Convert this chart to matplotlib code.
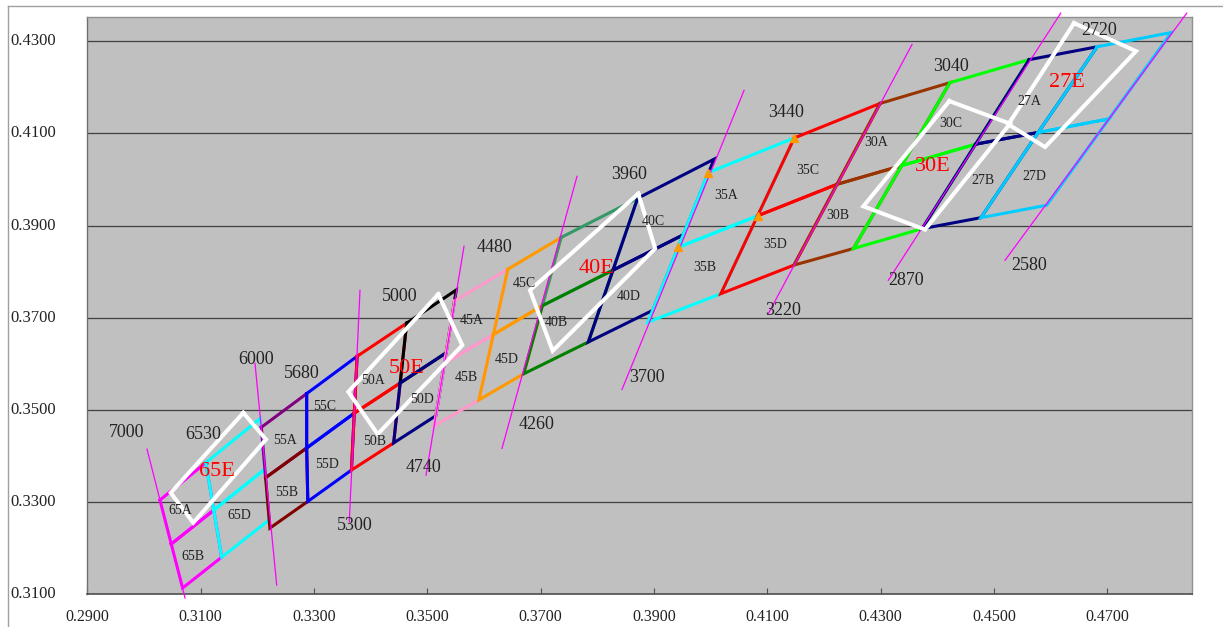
import matplotlib
matplotlib.use('Agg')
import matplotlib.pyplot as plt
from matplotlib.lines import Line2D
from matplotlib.transforms import blended_transform_factory

# ---------------- data ----------------
# Each ANSI quadrangle as a 3x3 grid of chromaticity points:
# order: TL, TM, TR, LM, C, RM, BL, BM, BR
q65_x = [0.3028, 0.3109, 0.3205, 0.3048, 0.3123, 0.3213, 0.3068, 0.3137, 0.3221]
q65_y = [0.3304, 0.3385, 0.3481, 0.32085, 0.3282, 0.3371, 0.3113, 0.3180, 0.3261]
q55_x = [0.3207, 0.3287, 0.3376, 0.32145, 0.3287, 0.3371, 0.3222, 0.3289, 0.3366]
q55_y = [0.3462, 0.3535, 0.3616, 0.33525, 0.3417, 0.34925, 0.3243, 0.3301, 0.3369]
q50_x = [0.3376, 0.34635, 0.3551, 0.3371, 0.3452, 0.3533, 0.3366, 0.34405, 0.3515]
q50_y = [0.3616, 0.3688, 0.3760, 0.34925, 0.3558, 0.36235, 0.3369, 0.3428, 0.3487]
q45_x = [0.3548, 0.3642, 0.3736, 0.3530, 0.36165, 0.3703, 0.3512, 0.3591, 0.3670]
q45_y = [0.3736, 0.3805, 0.3874, 0.36005, 0.36633, 0.3726, 0.3465, 0.35215, 0.3578]
q40_x = [0.3736, 0.3871, 0.4006, 0.3703, 0.38275, 0.3952, 0.3670, 0.3784, 0.3898]
q40_y = [0.3874, 0.3959, 0.4044, 0.3726, 0.3803, 0.3880, 0.3578, 0.3647, 0.3716]
q35_x = [0.3996, 0.41475, 0.4299, 0.39425, 0.40828, 0.4223, 0.3889, 0.4018, 0.4147]
q35_y = [0.4015, 0.4090, 0.4165, 0.38525, 0.3921, 0.39895, 0.3690, 0.3752, 0.3814]
q30_x = [0.4299, 0.4422, 0.4562, 0.4223, 0.4337, 0.44675, 0.4147, 0.4252, 0.4373]
q30_y = [0.4165, 0.4210, 0.4260, 0.39895, 0.4030, 0.40765, 0.3814, 0.3850, 0.3893]
q27_x = [0.4562, 0.4682, 0.4813, 0.44675, 0.4578, 0.4703, 0.4373, 0.4477, 0.4593]
q27_y = [0.4260, 0.4288, 0.4319, 0.40765, 0.4102, 0.41315, 0.3893, 0.3917, 0.3944]

quad_names = ['65', '55', '50', '45', '40', '35', '30', '27']
quad_xs = [q65_x, q55_x, q50_x, q45_x, q40_x, q35_x, q30_x, q27_x]
quad_ys = [q65_y, q55_y, q50_y, q45_y, q40_y, q35_y, q30_y, q27_y]

# "E" bins (rotated boxes): four corners each
e_names = ['65E', '50E', '40E', '30E', '27E']
e65_x = [0.31752, 0.32152, 0.30869, 0.30470]
e65_y = [0.34933, 0.34356, 0.32547, 0.33197]
e50_x = [0.35193, 0.35617, 0.34123, 0.33605]
e50_y = [0.37508, 0.36401, 0.34471, 0.35389]
e40_x = [0.38723, 0.39021, 0.37212, 0.36811]
e40_y = [0.39692, 0.38499, 0.36278, 0.37594]
e30_x = [0.44212, 0.45283, 0.43783, 0.42694]
e30_y = [0.41701, 0.41210, 0.38911, 0.39417]
e27_x = [0.46413, 0.47507, 0.45902, 0.45253]
e27_y = [0.43393, 0.42785, 0.40703, 0.41195]
e_xs = [e65_x, e50_x, e40_x, e30_x, e27_x]
e_ys = [e65_y, e50_y, e40_y, e30_y, e27_y]

# CCT isotherm lines (end points)
iso_cct = [7000, 6000, 5300, 4740, 4260, 3700, 3220, 2870, 2580]
iso_x1 = [0.30052, 0.31958, 0.33811, 0.35647, 0.37641, 0.40589, 0.43554, 0.46178, 0.48402]
iso_y1 = [0.34145, 0.36004, 0.37594, 0.38549, 0.40067, 0.41933, 0.42931, 0.43610, 0.43610]
iso_x2 = [0.30723, 0.32341, 0.33622, 0.34976, 0.36317, 0.38435, 0.41012, 0.43135, 0.45195]
iso_y2 = [0.30913, 0.31195, 0.32568, 0.33581, 0.34161, 0.35440, 0.37074, 0.37811, 0.38245]

# CCT labels
cct_text = ['7000', '6530', '6000', '5680', '5300', '5000', '4740', '4480', '4260',
            '3960', '3700', '3440', '3220', '3040', '2870', '2720', '2580']
cct_x = [0.2969, 0.3104, 0.3197, 0.3278, 0.3371, 0.3452, 0.3493, 0.3618, 0.3692,
         0.3856, 0.3887, 0.4133, 0.4128, 0.4425, 0.4344, 0.4685, 0.4562]
cct_y = [0.3451, 0.3446, 0.3609, 0.3579, 0.3248, 0.3745, 0.3375, 0.3853, 0.3467,
         0.4011, 0.3570, 0.4145, 0.3716, 0.4245, 0.3781, 0.4323, 0.3814]

# Sub-bin labels
bin_text = ['65A', '65B', '65D', '55A', '55B', '55C', '55D', '50A', '50B', '50D',
            '45A', '45B', '45C', '45D', '40B', '40C', '40D', '35A', '35B', '35C', '35D',
            '30A', '30B', '30C', '27A', '27B', '27D']
bin_x = [0.3063, 0.3086, 0.3168, 0.3249, 0.3252, 0.3319, 0.3323, 0.3404, 0.3407, 0.3490,
         0.3578, 0.3569, 0.3671, 0.3640, 0.3728, 0.3899, 0.3856, 0.4028, 0.3990, 0.4172, 0.4114,
         0.4292, 0.4225, 0.4424, 0.4562, 0.4480, 0.4571]
bin_y = [0.3281, 0.3182, 0.3271, 0.3434, 0.3321, 0.3506, 0.3382, 0.3564, 0.3430, 0.3522,
         0.3693, 0.3571, 0.3775, 0.3609, 0.3689, 0.3908, 0.3745, 0.3966, 0.3809, 0.4020, 0.3859,
         0.4081, 0.3922, 0.4121, 0.4170, 0.3998, 0.4007]

e_label_x = [0.3128, 0.3464, 0.3799, 0.4392, 0.4628]
e_label_y = [0.3365, 0.3590, 0.3807, 0.4028, 0.4211]

x_ticks = [0.29, 0.31, 0.33, 0.35, 0.37, 0.39, 0.41, 0.43, 0.45, 0.47]
y_ticks = [0.31, 0.33, 0.35, 0.37, 0.39, 0.41, 0.43]

# ---------------- styles ----------------
SUB_LOOPS = {'A': [0, 1, 4, 3, 0], 'B': [3, 4, 7, 6, 3],
             'C': [1, 2, 5, 4, 1], 'D': [4, 5, 8, 7, 4]}
quad_colors = {
    '65': ['#FF00FF', '#FF00FF', '#00FFFF', '#00FFFF'],
    '55': ['#800080', '#800000', '#0000FF', '#0000FF'],
    '50': ['#FF0000', '#FF0000', '#000000', '#000080'],
    '45': ['#FF99CC', '#FF99CC', '#FF9900', '#FF9900'],
    '40': ['#339966', '#008000', '#000080', '#000080'],
    '35': ['#00FFFF', '#00FFFF', '#FF0000', '#FF0000'],
    '30': ['#993300', '#993300', '#00FF00', '#00FF00'],
    '27': ['#000080', '#000080', '#00CCFF', '#00CCFF'],
}
SERIF = ['Liberation Serif', 'DejaVu Serif']
TXT = '#222222'

W, H = 1223, 627
fig = plt.figure(figsize=(W / 100, H / 100), dpi=100)
fig.patch.set_facecolor('white')
left, right, bottom, top = 87.4, 1192.3, 594.0, 17.3
ax = fig.add_axes([left / W, (H - bottom) / H, (right - left) / W, (bottom - top) / H])
ax.set_facecolor('#C0C0C0')
ax.set_xlim(0.29, 0.485)
ax.set_ylim(0.31, 0.4352)

# grid lines
for yv in y_ticks:
    ax.axhline(yv, color='#404040', lw=0.9, zorder=1)

# quadrangles
lw_q = 2.2
for name, qx, qy in zip(quad_names, quad_xs, quad_ys):
    for k, sub in enumerate(['A', 'B', 'C', 'D']):
        idx = SUB_LOOPS[sub]
        ax.plot([qx[i] for i in idx], [qy[i] for i in idx], color=quad_colors[name][k],
                lw=lw_q, solid_joinstyle='miter', zorder=3)
        if name == '35' and sub == 'A':
            ax.plot([qx[i] for i in idx[:-1]], [qy[i] for i in idx[:-1]], ls='none',
                    marker='^', ms=6, color='#FF9900', mec='#FF9900', zorder=6)

# isotherms
for x1, y1, x2, y2 in zip(iso_x1, iso_y1, iso_x2, iso_y2):
    ax.plot([x1, x2], [y1, y2], color='#FF00FF', lw=0.9, zorder=4, clip_on=False)

# E boxes
for ex, ey in zip(e_xs, e_ys):
    ax.plot(ex + [ex[0]], ey + [ey[0]], color='white', lw=2.9, zorder=5,
            solid_joinstyle='miter')

# labels
for t, x, y in zip(cct_text, cct_x, cct_y):
    ax.text(x, y, t, ha='center', va='center', fontsize=13, family=SERIF,
            color=TXT, zorder=7)
for t, x, y in zip(bin_text, bin_x, bin_y):
    ax.text(x, y, t, ha='center', va='center', fontsize=10, family=SERIF,
            color=TXT, zorder=7)
for t, x, y in zip(e_names, e_label_x, e_label_y):
    ax.text(x, y, t, ha='center', va='center', fontsize=16, family=SERIF,
            color='#FF0000', zorder=7)

# axes styling
for s in ['top', 'right']:
    ax.spines[s].set_color('#909090')
    ax.spines[s].set_linewidth(1.0)
ax.spines['left'].set_color('#707070')
ax.spines['bottom'].set_color('#505050')
ax.spines['left'].set_linewidth(1.0)
ax.spines['bottom'].set_linewidth(1.2)

ax.set_xticks(x_ticks)
ax.set_xticklabels(['%.4f' % v for v in x_ticks], fontsize=11.5, family=SERIF, color=TXT)
ax.tick_params(axis='x', direction='in', length=4, width=0.8, color='#505050', pad=11)
ax.set_yticks(y_ticks)
ax.set_yticklabels([])
ax.tick_params(axis='y', length=0)

trans = blended_transform_factory(fig.transFigure, ax.transData)
for yv in y_ticks:
    fig.text(10 / W, yv, '%.4f' % yv, transform=trans, ha='left', va='center',
             fontsize=12, family=SERIF, color=TXT)

# chart-area frame
fig.add_artist(Line2D([8 / W, 1.0], [1 - 6 / H, 1 - 6 / H], transform=fig.transFigure,
                      color='#A0A0A0', lw=1.0))
fig.add_artist(Line2D([8 / W, 8 / W], [0.0, 1 - 6 / H], transform=fig.transFigure,
                      color='#A0A0A0', lw=1.0))

fig.savefig('out.png', dpi=100)
